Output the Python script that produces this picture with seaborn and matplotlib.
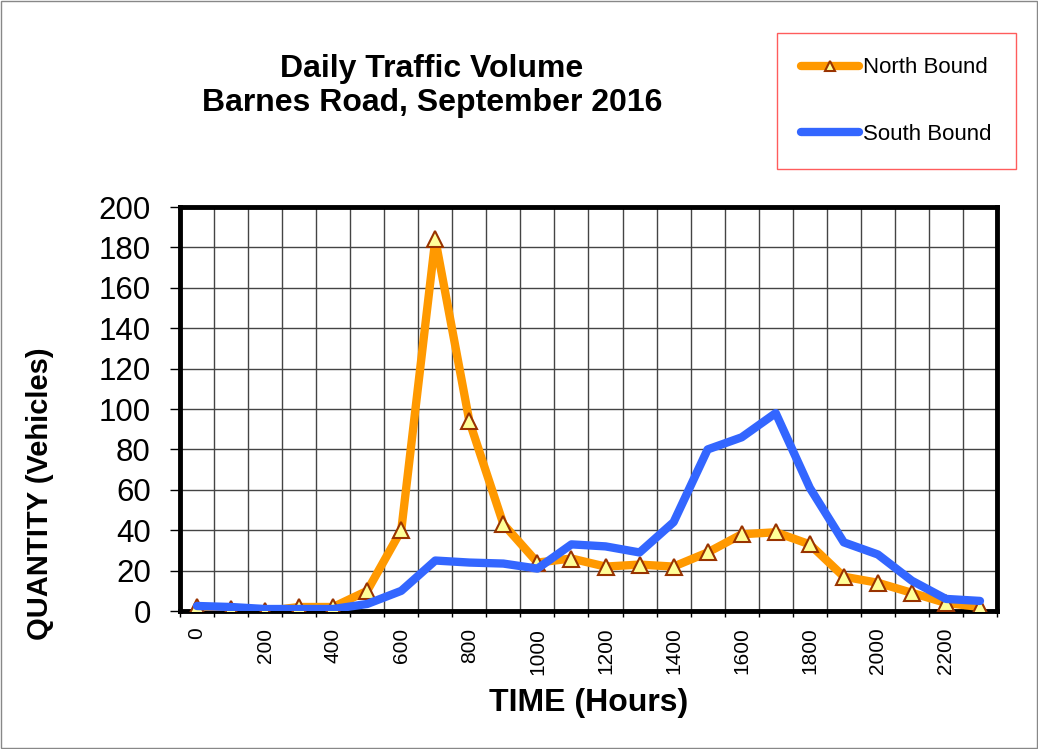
import numpy as np
import pandas as pd
import matplotlib
matplotlib.use('Agg')
import matplotlib.pyplot as plt
import seaborn as sns

# hourly counts
hours = list(range(0, 2400, 100))
north_bound = [2, 1, 0, 2, 2, 10, 40, 184, 94, 43, 24, 26, 22, 23, 22, 29,
               38, 39, 33, 17, 14, 9, 4, 2]
south_bound = [2.5, 2, 1, 1, 1, 3.5, 10, 25, 24, 23.5, 21, 33, 32, 29, 44, 80,
               86, 98, 61, 34, 28, 15, 6, 5]

df = pd.DataFrame({'Time': hours, 'North Bound': north_bound, 'South Bound': south_bound})

sns.set_style('white')
plt.rcParams['font.family'] = ['Liberation Sans', 'DejaVu Sans']
plt.rcParams['text.color'] = 'black'
plt.rcParams['axes.labelcolor'] = 'black'
plt.rcParams['xtick.color'] = 'black'
plt.rcParams['ytick.color'] = 'black'

fig = plt.figure(figsize=(10.38, 7.49), dpi=100)
ax = fig.add_axes([0.1734, 0.1842, 0.7871, 0.5394])

sns.lineplot(data=df, x='Time', y='North Bound', ax=ax, color='#FF9900', lw=6,
             marker='^', markersize=12, markerfacecolor='#FFFF99',
             markeredgecolor='#993300', markeredgewidth=1.5, label='North Bound', zorder=3)
sns.lineplot(data=df, x='Time', y='South Bound', ax=ax, color='#3366FF', lw=6,
             label='South Bound', zorder=4)

ax.set_xlim(-50, 2350)
ax.set_ylim(0, 200)
ax.set_yticks(range(0, 201, 20))
ax.set_xticks(range(0, 2300, 200))
ax.set_xticklabels([str(h) for h in range(0, 2300, 200)], rotation=90, fontsize=15)
ax.set_xticks(np.arange(-50, 2351, 100), minor=True)
ax.tick_params(axis='y', labelsize=22.5, length=7, width=1, direction='out', left=True, pad=14)
ax.tick_params(axis='x', which='major', length=0, pad=12)
ax.tick_params(axis='x', which='minor', length=4, width=1, direction='out', bottom=True)

ax.grid(False)
ax.grid(True, axis='y', which='major', color='#444444', lw=1)
ax.grid(True, axis='x', which='minor', color='#444444', lw=1)
for s in ax.spines.values():
    s.set_linewidth(3.5)
    s.set_color('black')

ax.set_xlabel('TIME (Hours)', fontsize=23, fontweight='bold', labelpad=10)
ax.set_ylabel('QUANTITY (Vehicles)', fontsize=21, fontweight='bold')
ax.yaxis.set_label_coords(-0.154, 0.29)

fig.text(0.416, 0.885, 'Daily Traffic Volume\nBarnes Road, September 2016',
         ha='center', va='center', fontsize=23, fontweight='bold', linespacing=1.2)

handles, labels = ax.get_legend_handles_labels()
ax.get_legend().remove()
leg = fig.legend(handles, labels, loc='upper left', bbox_to_anchor=(0.7486, 0.956),
                 borderaxespad=0, fontsize=16, frameon=True, fancybox=False,
                 labelspacing=2.05, handlelength=2.6, handletextpad=0.15,
                 borderpad=1.1, markerscale=0.6)
leg.get_frame().set_edgecolor('#FF3333')
leg.get_frame().set_linewidth(1)
for line in leg.get_lines():
    line.set_linewidth(6)
    line.set_solid_capstyle('round')

fig.patches.append(plt.Rectangle((0.001, 0.001), 0.998, 0.998, transform=fig.transFigure,
                                 fill=False, edgecolor='#888888', lw=1))

fig.savefig('out.png', dpi=100)
